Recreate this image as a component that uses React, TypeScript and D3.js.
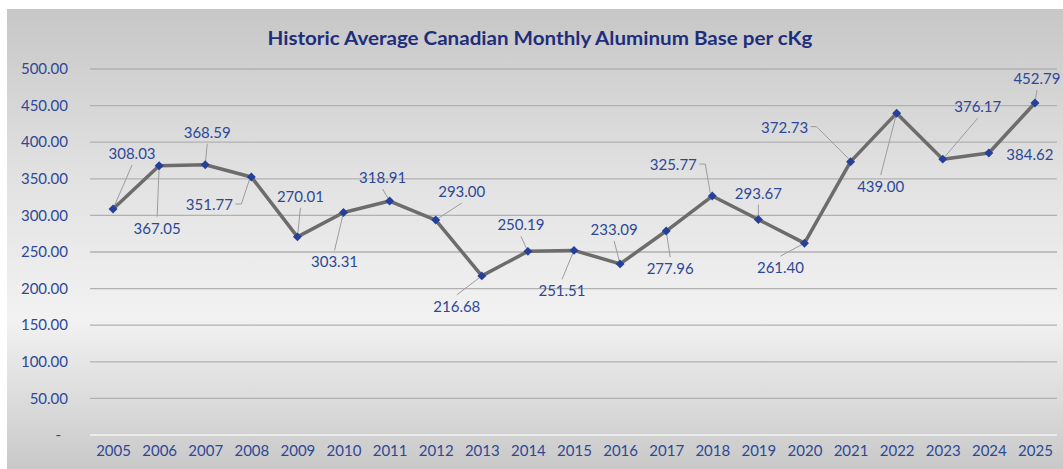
import { useEffect, useRef } from 'react';
import * as d3 from 'd3';

const years = ['2005', '2006', '2007', '2008', '2009', '2010', '2011', '2012', '2013', '2014', '2015',
  '2016', '2017', '2018', '2019', '2020', '2021', '2022', '2023', '2024', '2025'];
const prices = [308.03, 367.05, 368.59, 351.77, 270.01, 303.31, 318.91, 293.0, 216.68, 250.19, 251.51,
  233.09, 277.96, 325.77, 293.67, 261.4, 372.73, 439.0, 376.17, 384.62, 452.79];
const yTicks = [0, 50, 100, 150, 200, 250, 300, 350, 400, 450, 500];

// label placement (offset from point in px) + leader style, as Excel put them
const labelPos: [number, number, string][] = [
  [19, -56, 'straight'], [-2, 62, 'straight'], [2, -33, 'straight'], [-42, 27, 'elbow'],
  [3, -41, 'straight'], [-9, 49, 'straight'], [-7, -24, 'straight'], [26, -29, 'straight'],
  [-25, 30, 'straight'], [-7, -27, 'straight'], [-12, 40, 'straight'], [-6, -35, 'straight'],
  [4, 37, 'straight'], [-39, -32, 'elbow'], [0, -27, 'straight'], [-24, 24, 'straight'],
  [-66, -35, 'elbow'], [-16, 73, 'straight'], [35, -53, 'straight'], [41, 1, 'none'],
  [2, -25, 'straight'],
];

const BLUE = '#2d4897';
const FONT = 'Lato, "Open Sans", sans-serif';

export default function App() {
  const svgRef = useRef<SVGSVGElement>(null);

  useEffect(() => {
    const el = svgRef.current;
    if (!el) return;
    const W = 1063, H = 469;
    const svg = d3.select(el);
    svg.selectAll('*').remove();

    // panel background
    const defs = svg.append('defs');
    const grad = defs.append('linearGradient')
      .attr('id', 'bgGrad').attr('x1', 0).attr('y1', 0).attr('x2', 0).attr('y2', 1);
    grad.append('stop').attr('offset', '0%').attr('stop-color', '#c7c7c7');
    grad.append('stop').attr('offset', '35%').attr('stop-color', '#e1e1e1');
    grad.append('stop').attr('offset', '66%').attr('stop-color', '#f2f2f2');
    grad.append('stop').attr('offset', '100%').attr('stop-color', '#c6c6c6');
    svg.append('rect').attr('width', W).attr('height', H).attr('fill', '#fff');
    svg.append('rect')
      .attr('x', 7).attr('y', 9).attr('width', W).attr('height', H)
      .attr('fill', 'url(#bgGrad)');

    const x = d3.scalePoint<string>().domain(years).range([90, 1058]).padding(0.5);
    const y = d3.scaleLinear().domain([0, 500]).range([434.5, 68.5]);

    // title
    svg.append('text')
      .attr('x', 540).attr('y', 37)
      .attr('text-anchor', 'middle')
      .attr('dominant-baseline', 'central')
      .attr('fill', '#1f2e7c')
      .attr('font-family', FONT)
      .attr('font-weight', 700)
      .attr('font-size', 19)
      .attr('textLength', 545)
      .attr('lengthAdjust', 'spacingAndGlyphs')
      .text('Historic Average Canadian Monthly Aluminum Base per cKg');

    // grid
    const grid = svg.append('g')
      .attr('transform', 'translate(90,0)')
      .call(d3.axisLeft(y).tickValues(yTicks).tickSize(-967).tickFormat(() => ''));
    grid.select('.domain').remove();
    grid.selectAll('line')
      .attr('stroke', (d: any) => (d === 0 ? '#ececec' : '#b1b1b1'))
      .attr('stroke-width', (d: any) => (d === 0 ? 2 : 1.3));

    // y axis labels
    const yAx = svg.append('g')
      .attr('transform', 'translate(68,0)')
      .call(d3.axisLeft(y).tickValues(yTicks).tickSize(0).tickPadding(0)
        .tickFormat((d: any) => (d === 0 ? '-' : d3.format('.2f')(d))));
    yAx.select('.domain').remove();
    yAx.selectAll('text')
      .attr('fill', BLUE)
      .attr('font-family', FONT)
      .attr('font-size', 15)
      .attr('dy', '0.35em')
      .attr('dx', (d: any) => (d === 0 ? -7 : 0));

    // x axis labels
    const xAx = svg.append('g')
      .attr('transform', 'translate(0,445)')
      .call(d3.axisBottom(x).tickSize(0).tickPadding(0));
    xAx.select('.domain').remove();
    xAx.selectAll('text')
      .attr('fill', BLUE)
      .attr('font-family', FONT)
      .attr('font-size', 15)
      .attr('dy', '0.71em');

    // leader lines
    const leaders = svg.append('g')
      .attr('fill', 'none')
      .attr('stroke', '#9c9c9c')
      .attr('stroke-width', 1);
    prices.forEach((v, i) => {
      const [dx, dy, kind] = labelPos[i];
      if (kind === 'none') return;
      const px = x(years[i])!, py = y(v);
      const lx = px + dx, ly = py + dy;
      if (kind === 'elbow') {
        const side = dx < 0 ? 1 : -1;
        const sx = lx + side * 26;
        leaders.append('path')
          .attr('d', d3.line()([[sx, ly], [sx + side * 6, ly], [px - side * 2, py + (dy < 0 ? -3 : 3)]]));
      } else {
        const sy = dy < 0 ? ly + 12 : ly - 11;
        const ang = Math.atan2(py - sy, px - lx);
        leaders.append('path')
          .attr('d', d3.line()([[lx, sy], [px - Math.cos(ang) * 3, py - Math.sin(ang) * 3]]));
      }
    });

    // line
    svg.append('path')
      .datum(prices)
      .attr('fill', 'none')
      .attr('stroke', '#6e6b6b')
      .attr('stroke-width', 3.5)
      .attr('stroke-linejoin', 'round')
      .attr('d', d3.line<number>().x((_, i) => x(years[i])!).y((d) => y(d)));

    // markers
    svg.append('g')
      .selectAll('path')
      .data(prices)
      .join('path')
      .attr('d', d3.symbol().type(d3.symbolSquare).size(40)())
      .attr('transform', (d, i) => `translate(${x(years[i])},${y(d)}) rotate(45)`)
      .attr('fill', '#24409a');

    // data labels
    svg.append('g')
      .selectAll('text')
      .data(prices)
      .join('text')
      .attr('x', (d, i) => x(years[i])! + labelPos[i][0])
      .attr('y', (d, i) => y(d) + labelPos[i][1])
      .attr('text-anchor', 'middle')
      .attr('dominant-baseline', 'central')
      .attr('fill', BLUE)
      .attr('font-family', FONT)
      .attr('font-size', 15)
      .text((d) => d3.format('.2f')(d));
  }, []);

  return (
    <svg
      ref={svgRef}
      width={1063}
      height={469}
      style={{ position: 'absolute', left: 0, top: 0, display: 'block' }}
    />
  );
}
